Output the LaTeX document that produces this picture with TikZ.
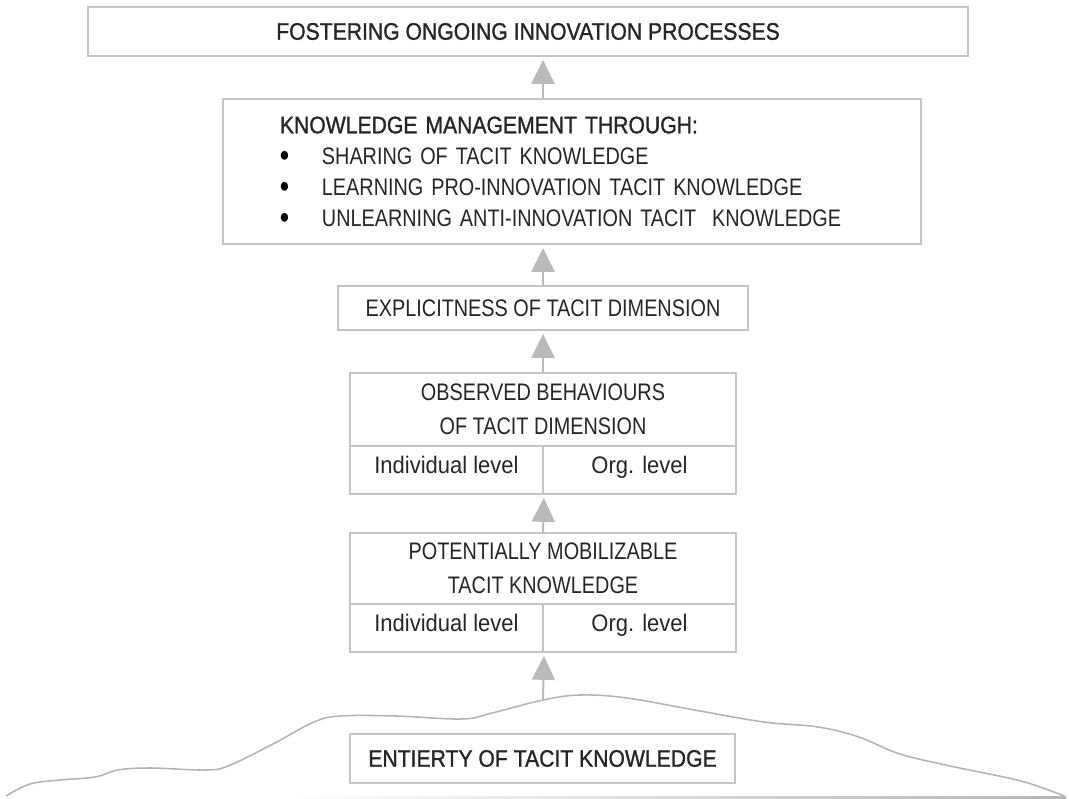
\documentclass[tikz,border=0pt]{standalone}
\usepackage{fontspec}
\setmainfont{Liberation Sans}[FakeStretch=0.83]
\newfontfamily\headfont{Liberation Sans}[FakeStretch=0.885,FakeBold=1.2]
\newfontfamily\lowfont{Liberation Sans}[FakeStretch=0.92]
\usetikzlibrary{arrows.meta}

\definecolor{boxgray}{HTML}{C6C6C8}
\definecolor{arrowgray}{HTML}{BABABD}
\definecolor{hillgray}{HTML}{B4B4B6}
\definecolor{textgray}{HTML}{262626}

\newcommand{\kmbullet}{\makebox[1.05cm][l]{\raisebox{-0.15ex}[0pt][0pt]{\scalebox{1.35}{\textcolor{black}{\textbullet}}}}}

\begin{document}
\begin{tikzpicture}[x=0.025cm,y=-0.025cm,
    every node/.style={font=\fontsize{17}{24}\selectfont, text=textgray},
    tbox/.style={draw=boxgray, line width=1.4pt, inner sep=0pt, align=center},
    cell/.style={tbox, minimum width=4.825cm, minimum height=1.2cm, text height=12pt, text depth=7pt, font=\lowfont\fontsize{17}{24}\selectfont},
    up/.style={draw=arrowgray, line width=1.4pt, -{Triangle[width=16.4pt,length=17pt]}, shorten >=2.1pt}]

    \useasboundingbox (0,0) rectangle (1069,799);

    \node[tbox, minimum width=22cm, minimum height=1.225cm] (fost) at (528,31.5) {\headfont FOSTERING ONGOING INNOVATION PROCESSES};
    \node[tbox, minimum width=17.45cm, minimum height=3.625cm, text width=14.6cm, align=left,
          font=\fontsize{17}{22}\selectfont] (km) at (572,171.5)
        {{\headfont KNOWLEDGE MANAGEMENT THROUGH:}\\
         \kmbullet SHARING OF TACIT KNOWLEDGE\\
         \kmbullet LEARNING PRO-INNOVATION TACIT KNOWLEDGE\\
         \kmbullet UNLEARNING ANTI-INNOVATION TACIT~ KNOWLEDGE};
    \node[tbox, minimum width=10.25cm, minimum height=1.1cm] (expl) at (543,308) {EXPLICITNESS OF TACIT DIMENSION};

    \node[tbox, minimum width=9.65cm, minimum height=1.825cm] (obs) at (543,409.5) {OBSERVED BEHAVIOURS\\OF TACIT DIMENSION};
    \node[cell] (obsind) at (446.5,470) {Individual level};
    \node[cell] (obsorg) at (639.5,470) {Org. level};

    \node[tbox, minimum width=9.65cm, minimum height=1.775cm] (pot) at (543,568.5) {POTENTIALLY MOBILIZABLE\\TACIT KNOWLEDGE};
    \node[cell] (potind) at (446.5,628) {Individual level};
    \node[cell] (potorg) at (639.5,628) {Org. level};

    % the hill of tacit knowledge
    \draw[hillgray, line width=1.1pt] plot[smooth, tension=0.6] coordinates {
        (6,796) (30,784) (60,780) (95,777) (118,770) (150,768) (205,770) (228,766)
        (273,744) (314,722) (341,716) (396,716) (462,719) (492,713) (543,700)
        (580,695) (627,698) (700,711) (764,722) (818,727) (859,737) (900,754)
        (955,767) (1017,780) (1054,792) (1066,797)};
    \shade[left color=white, right color=hillgray] (290,796.6) rectangle (1066,799);
    \coordinate (peak) at (543,700);

    \node[tbox, minimum width=9.625cm, minimum height=1.225cm] (ent) at (542.5,758.5) {\headfont ENTIERTY OF TACIT KNOWLEDGE};

    \draw[up] (km.north -| expl.north) -- (fost.south -| expl.north);
    \draw[up] (expl.north) -- (km.south -| expl.north);
    \draw[up] (obs.north) -- (expl.south);
    \draw[up] (pot.north) -- (obsind.south east);
    \draw[up] (peak) -- (potind.south east);
\end{tikzpicture}
\end{document}
